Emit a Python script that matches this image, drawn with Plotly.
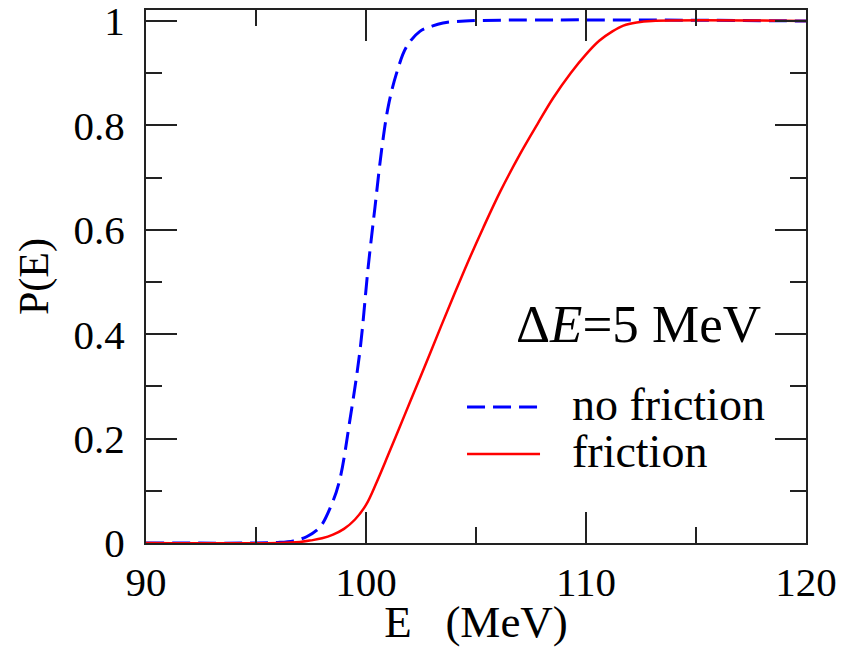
import plotly.graph_objects as go

# Data
energy_nofric = [90, 95, 96, 96.7, 97.3, 97.9, 98.4, 98.8, 99.27, 99.73, 100.1, 100.41,
                 100.71, 101.01, 101.39, 101.85, 102.45, 103.0, 103.5, 104.5, 120]
p_nofric = [0, 0, 0.001, 0.004, 0.012, 0.03, 0.07, 0.12, 0.236, 0.37, 0.529, 0.644,
            0.753, 0.836, 0.90, 0.951, 0.98, 0.99, 0.996, 1.0, 1.0]

energy_fric = [90, 96, 97, 97.5, 98, 98.5, 99, 99.5, 100.0, 100.5, 101.0, 101.5, 102.0,
               102.5, 102.91, 103.4, 103.97, 104.6, 105.33, 106.1, 107.0, 107.8, 108.5,
               109.3, 110.0, 110.6, 111.2, 111.7, 112.3, 113.0, 120]
p_fric = [0, 0, 0.002, 0.005, 0.009, 0.016, 0.027, 0.045, 0.073, 0.118, 0.168, 0.219, 0.270,
          0.321, 0.363, 0.414, 0.472, 0.535, 0.604, 0.673, 0.745, 0.803, 0.852,
          0.9, 0.936, 0.962, 0.98, 0.991, 0.997, 1.0, 1.0]

x_ticks = [90, 100, 110, 120]
y_ticks = [0, 0.2, 0.4, 0.6, 0.8, 1.0]
y_ticklabels = ["0", "0.2", "0.4", "0.6", "0.8", "1"]

FONT = "Liberation Serif, 'Times New Roman', serif"
AX = "#222222"

fig = go.Figure()
fig.add_trace(go.Scatter(x=energy_nofric, y=p_nofric, mode="lines", name="no friction",
                         line=dict(color="#0000ff", width=3, dash="18px,8px", shape="spline", smoothing=1.0),
                         showlegend=False))
fig.add_trace(go.Scatter(x=energy_fric, y=p_fric, mode="lines", name="friction",
                         line=dict(color="#ff0000", width=2.5, shape="spline", smoothing=1.0),
                         showlegend=False))

axis_common = dict(showline=True, linecolor=AX, linewidth=2, mirror="ticks",
                   ticks="inside", ticklen=31, tickwidth=2, tickcolor=AX,
                   showgrid=False, zeroline=False, automargin=False,
                   ticklabeloverflow="allow",
                   tickfont=dict(family=FONT, size=41, color="black"))

fig.update_xaxes(range=[90, 120], tickvals=x_ticks, ticklabelstandoff=2,
                 minor=dict(dtick=5, ticks="inside", ticklen=16, tickwidth=2, tickcolor=AX, showgrid=False),
                 title=dict(text="E\u00a0\u00a0\u00a0(MeV)", font=dict(family=FONT, size=45, color="black"), standoff=0),
                 **axis_common)
fig.update_yaxes(range=[0, 1.021], tickvals=y_ticks, ticktext=y_ticklabels, ticklabelstandoff=11,
                 minor=dict(tickvals=[0.1, 0.3, 0.5, 0.7, 0.9], ticks="inside", ticklen=16, tickwidth=2, tickcolor=AX, showgrid=False),
                 title=dict(text="P(E)", font=dict(family=FONT, size=42, color="black"), standoff=12),
                 **axis_common)

# Legend drawn in the reference style (long line samples)
fig.add_shape(type="line", xref="paper", yref="paper", x0=0.4864, x1=0.597, y0=0.2552, y1=0.2552,
              line=dict(color="#0000ff", width=3, dash="18px,8px"))
fig.add_shape(type="line", xref="paper", yref="paper", x0=0.4864, x1=0.597, y0=0.167, y1=0.167,
              line=dict(color="#ff0000", width=2.5))
fig.add_annotation(xref="paper", yref="paper", x=0.643, y=0.259, xanchor="left", yanchor="middle",
                   text="no friction", showarrow=False, font=dict(family=FONT, size=46, color="black"))
fig.add_annotation(xref="paper", yref="paper", x=0.643, y=0.171, xanchor="left", yanchor="middle",
                   text="friction", showarrow=False, font=dict(family=FONT, size=46, color="black"))
fig.add_annotation(xref="paper", yref="paper", x=0.935, y=0.41, xanchor="right", yanchor="middle",
                   text="Δ<i>E</i>=5 MeV", showarrow=False, font=dict(family=FONT, size=53, color="black"))

fig.update_layout(width=858, height=647, margin=dict(l=146, r=52, t=10, b=104),
                  paper_bgcolor="white", plot_bgcolor="white",
                  font=dict(family=FONT, color="black"))

fig.write_html("out.html", config={"displayModeBar": False},
               post_script="document.body.style.margin='0px';")
